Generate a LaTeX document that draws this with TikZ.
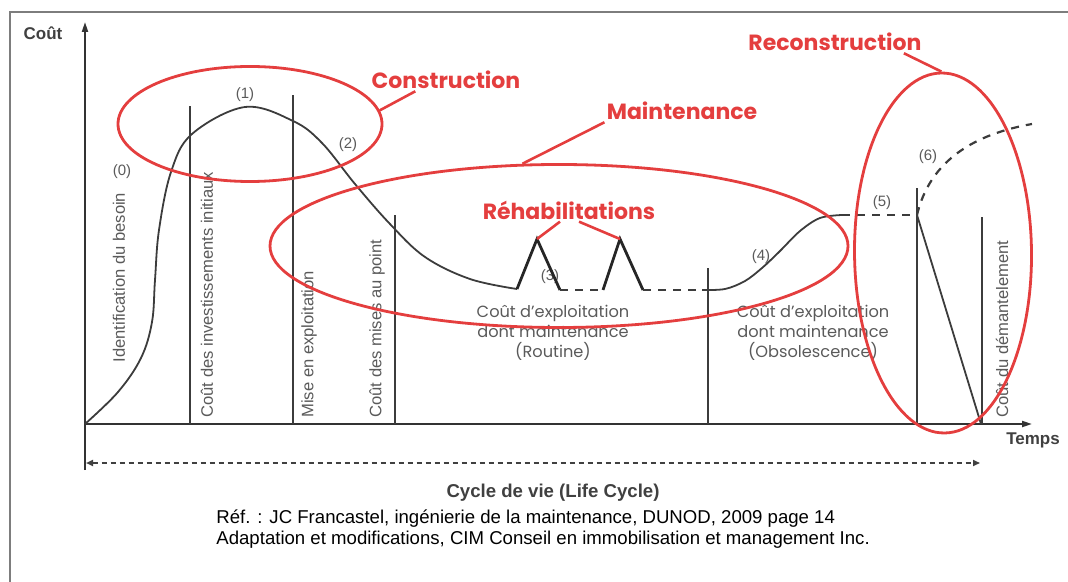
\documentclass[tikz,border=0pt]{standalone}
\usepackage{fontspec}
\setmainfont{Liberation Sans}
\newfontfamily\gothic{Poppins}
\usetikzlibrary{shapes.geometric,arrows.meta}
\definecolor{zonered}{RGB}{228,62,62}
\definecolor{inkgray}{RGB}{60,60,60}
\definecolor{txtgray}{RGB}{90,90,90}
\definecolor{framegray}{RGB}{125,125,125}
\tikzset{
  zone/.style={ellipse,draw=zonered,line width=1.4pt,inner sep=0pt},
  zonelink/.style={draw=zonered,line width=1.3pt},
  zonetitle/.style={text=zonered,font=\gothic\bfseries\fontsize{11}{12}\selectfont,inner sep=1pt},
  phase/.style={draw=inkgray,line width=0.6pt},
  cost/.style={draw=inkgray,line width=0.9pt},
  peak/.style={draw=black!85,line width=1.4pt},
  dashlevel/.style={draw=inkgray,line width=1.1pt,dash pattern=on 4pt off 3.5pt},
  vlabel/.style={rotate=90,anchor=west,text=txtgray,font=\fontsize{8.3}{9}\selectfont,inner sep=0pt},
  num/.style={text=txtgray,font=\fontsize{7.5}{9}\selectfont},
  usage/.style={text=txtgray,align=center,font=\gothic\fontsize{8.1}{10}\selectfont},
  axislabel/.style={font=\bfseries\fontsize{8.5}{9}\selectfont,text=black!75},
}
\begin{document}
\begin{tikzpicture}[x=0.5pt,y=-0.5pt]
\useasboundingbox (0,0) rectangle (1068,582);
% frame of the screenshot
\draw[framegray,line width=1.2pt] (10,582) -- (10,12) -- (1068,12);

% axes
\coordinate (ybot) at (85,470);
\coordinate (ytip) at (85,22);
\coordinate (O) at (85,424);
\coordinate (xtip) at (1032,424);
\draw[black!80,line width=1pt,-{Triangle[length=5pt,width=3pt]}] (ybot) -- (ytip);
\draw[black!80,line width=1pt,-{Triangle[length=5pt,width=3pt]}] (O) -- (xtip);
\node[axislabel] (cout) at (43,33) {Coût};
\node[axislabel] (temps) at (1033,440) {Temps};

% phases
\foreach \x/\t in {190/106,293/95,395/215,708/268,917/188,982/217}
  \draw[phase] (\x,424) -- (\x,\t);
\node[vlabel] (besoin) at (119,363) {Identification du besoin};
\node[vlabel] (invest) at (207,418) {Coût des investissements initiaux};
\node[vlabel] (miseexp) at (309,418) {Mise en exploitation};
\node[vlabel] (misept) at (377,418) {Coût des mises au point};
\node[vlabel] (demant) at (1002,418) {Coût du démantelement};

% cost curve
\node[num] (n0) at (122,172) {(0)};
\node[num] (n1) at (245,95) {(1)};
\node[num] (n2) at (348,145) {(2)};
\node[num] (n3) at (550,277) {(3)};
\node[num] (n4) at (761,257) {(4)};
\node[num] (n5) at (882,203) {(5)};
\node[num] (n6) at (928,157) {(6)};
\draw[cost] plot[smooth,tension=0.6] coordinates {(85,424) (118,392) (141,358) (152,322) (155,280) (159,230) (171,172) (192,134) (245,107) (293,121) (322,143) (355,184) (390,224) (425,257) (470,279) (517,289)};
\coordinate (rh1) at (537,239);
\coordinate (rh2) at (620,239);
\draw[peak] (517,289) -- (rh1) -- (560,290);
\draw[peak] (603,290) -- (rh2) -- (643,290);
\draw[dashlevel] (560,290) -- (603,290);
\draw[dashlevel] (643,290) -- (702,290);
\draw[cost] plot[smooth,tension=0.55] coordinates {(702,290) (725,289) (745,281) (762,268) (779,252) (800,231) (820,218) (842,215)};
\draw[dashlevel] (842,215) -- (917,215);
\draw[cost] (917,215) -- (981,424);
\draw[dashlevel] (917,215) .. controls (930,160) and (975,134) .. (1032,124);

\node[usage] (routine) at (553,333) {Coût d’exploitation\\dont maintenance\\(Routine)};
\node[usage] (obsol) at (813,333) {Coût d’exploitation\\dont maintenance\\(Obsolescence)};

% life cycle
\coordinate (cyc0) at (86,463);
\coordinate (cyc1) at (980,463);
\draw[black!75,line width=0.9pt,dash pattern=on 2.5pt off 2pt,{Triangle[length=3.5pt,width=3pt]}-{Triangle[length=3.5pt,width=3pt]}] (cyc0) -- (cyc1);
\node[font=\bfseries\fontsize{9.3}{10}\selectfont,text=black!75] (cycle) at (553,493) {Cycle de vie (Life Cycle)};
\node[anchor=west,align=left,font=\fontsize{9.3}{10.5}\selectfont,inner sep=0pt] (ref) at (216,529) {Réf. : JC Francastel, ingénierie de la maintenance, DUNOD, 2009 page 14\\Adaptation et modifications, CIM Conseil en immobilisation et management Inc.};

% zones
\node[zone,minimum width=132pt,minimum height=57.5pt] (econs) at (250,124) {};
\node[zone,minimum width=289pt,minimum height=81.5pt] (emnt) at (559,246) {};
\node[zone,minimum width=88.5pt,minimum height=180pt,rotate=0.5] (ereco) at (943,253) {};
\node[zonetitle] (tcons) at (446,80) {Construction};
\node[zonetitle] (tmnt) at (682,111) {Maintenance};
\node[zonetitle] (treco) at (835,42) {Reconstruction};
\node[zonetitle] (treha) at (569,210) {Réhabilitations};
\draw[zonelink] (econs.6) -- ([xshift=23pt]tcons.south west);
\draw[zonelink] (emnt.114) -- (tmnt.south west);
\draw[zonelink] (ereco.north) -- ([xshift=-10pt]treco.south east);
\draw[zonelink] ([xshift=-4.5pt]treha.south) -- (rh1);
\draw[zonelink] ([xshift=5pt]treha.south) -- (rh2);
\end{tikzpicture}
\end{document}
